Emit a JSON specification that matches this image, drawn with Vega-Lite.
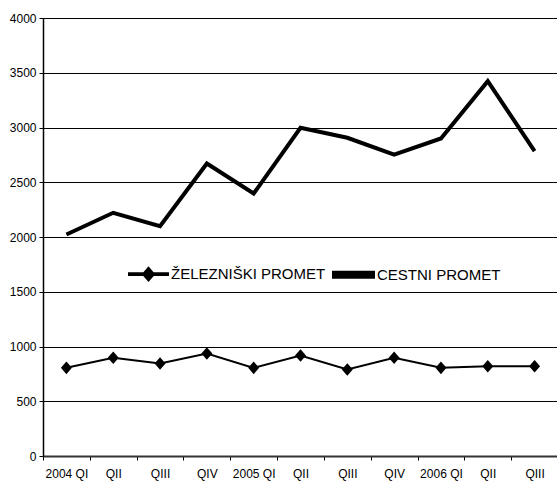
{
  "$schema": "https://vega.github.io/schema/vega-lite/v6.json",
  "width": 515,
  "height": 438,
  "autosize": "none",
  "padding": {"left": 43, "top": 18, "right": 0, "bottom": 28},
  "background": "white",
  "config": {"view": {"stroke": null}, "font": "Liberation Sans"},
  "data": {"values": [
    {"period": "2004 QI", "series": "ŽELEZNIŠKI PROMET", "value": 805},
    {"period": "2004 QII", "series": "ŽELEZNIŠKI PROMET", "value": 897},
    {"period": "2004 QIII", "series": "ŽELEZNIŠKI PROMET", "value": 845},
    {"period": "2004 QIV", "series": "ŽELEZNIŠKI PROMET", "value": 936},
    {"period": "2005 QI", "series": "ŽELEZNIŠKI PROMET", "value": 805},
    {"period": "2005 QII", "series": "ŽELEZNIŠKI PROMET", "value": 918},
    {"period": "2005 QIII", "series": "ŽELEZNIŠKI PROMET", "value": 790},
    {"period": "2005 QIV", "series": "ŽELEZNIŠKI PROMET", "value": 897},
    {"period": "2006 QI", "series": "ŽELEZNIŠKI PROMET", "value": 805},
    {"period": "2006 QII", "series": "ŽELEZNIŠKI PROMET", "value": 820},
    {"period": "2006 QIII", "series": "ŽELEZNIŠKI PROMET", "value": 820},
    {"period": "2004 QI", "series": "CESTNI PROMET", "value": 2023},
    {"period": "2004 QII", "series": "CESTNI PROMET", "value": 2221},
    {"period": "2004 QIII", "series": "CESTNI PROMET", "value": 2099},
    {"period": "2004 QIV", "series": "CESTNI PROMET", "value": 2671},
    {"period": "2005 QI", "series": "CESTNI PROMET", "value": 2397},
    {"period": "2005 QII", "series": "CESTNI PROMET", "value": 2997},
    {"period": "2005 QIII", "series": "CESTNI PROMET", "value": 2906},
    {"period": "2005 QIV", "series": "CESTNI PROMET", "value": 2753},
    {"period": "2006 QI", "series": "CESTNI PROMET", "value": 2900},
    {"period": "2006 QII", "series": "CESTNI PROMET", "value": 3423},
    {"period": "2006 QIII", "series": "CESTNI PROMET", "value": 2784}
  ]},
  "encoding": {
    "x": {
      "field": "period", "type": "ordinal", "sort": null,
      "scale": {"type": "band", "paddingInner": 0, "paddingOuter": 0},
      "axis": {
        "orient": "bottom",
        "title": null, "labelAngle": 0, "tickBand": "extent", "grid": false,
        "labelExpr": "split(datum.label, ' ')[1] == 'QI' ? datum.label : split(datum.label, ' ')[1]",
        "labelFont": "Liberation Sans", "labelFontSize": 12, "labelColor": "black",
        "labelPadding": 8, "tickSize": 4, "tickColor": "black", "tickWidth": 1,
        "domainColor": "#333", "domainWidth": 2
      }
    },
    "y": {
      "field": "value", "type": "quantitative",
      "scale": {"domain": [0, 4000], "nice": false},
      "axis": {
        "title": null, "values": [0, 500, 1000, 1500, 2000, 2500, 3000, 3500, 4000], "format": "d",
        "labelFont": "Liberation Sans", "labelFontSize": 12, "labelColor": "black",
        "labelPadding": 3, "tickSize": 4, "tickColor": "black",
        "domainColor": "black", "domainWidth": 1.5, "zindex": 0,
        "gridColor": "black", "gridWidth": 1, "gridOpacity": 1
      }
    }
  },
  "layer": [
    {
      "mark": {"type": "line", "strokeJoin": "miter"},
      "encoding": {
        "color": {
          "field": "series", "type": "nominal",
          "scale": {"domain": ["ŽELEZNIŠKI PROMET", "CESTNI PROMET"], "range": ["black", "black"]},
          "legend": {
            "orient": "none", "legendX": 85, "legendY": 235, "direction": "horizontal",
            "title": null, "fillColor": "white", "strokeColor": "white", "padding": 0, "zindex": 2,
            "symbolSize": 1521, "symbolStrokeWidth": 0,
            "labelFont": "Liberation Sans", "labelFontSize": 15, "labelColor": "black",
            "labelOffset": 2, "columnPadding": 0,
            "encode": {
              "legend": {"update": {"fill": {"value": "white"}, "stroke": {"value": "white"}, "strokeWidth": {"value": 3}}},
              "symbols": {"update": {
              "shape": {"signal": "datum.value === 'CESTNI PROMET' ? 'M-1,-0.1H1V0.1H-1Z' : 'M-1,-0.045H1V0.045H-1Z M-0.28,0L0,-0.32L0.28,0L0,0.32Z'"},
              "fill": {"value": "black"},
              "stroke": {"value": "transparent"},
              "strokeWidth": {"value": 0}
            }}}
          }
        },
        "strokeWidth": {
          "field": "series", "type": "nominal",
          "scale": {"domain": ["ŽELEZNIŠKI PROMET", "CESTNI PROMET"], "range": [2, 4]},
          "legend": null
        }
      }
    },
    {
      "transform": [{"filter": "datum.series === 'ŽELEZNIŠKI PROMET'"}],
      "mark": {"type": "point", "filled": true, "opacity": 1, "color": "black", "size": 121,
               "shape": "M0,-1.15L1,0L0,1.15L-1,0Z"}
    }
  ]
}
